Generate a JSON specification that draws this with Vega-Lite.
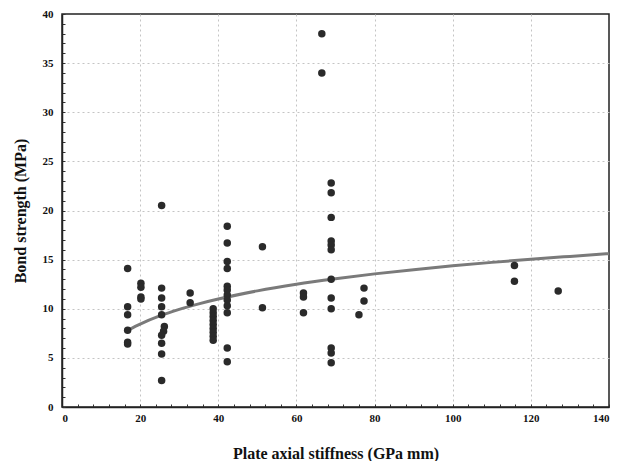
{
  "$schema": "https://vega.github.io/schema/vega-lite/v6.json",
  "autosize": "none",
  "padding": {"left": 62, "top": 14, "right": 20, "bottom": 54},
  "width": 547,
  "height": 393,
  "background": "white",
  "config": {
    "view": {"stroke": "#222", "strokeWidth": 1.5},
    "font": "Liberation Serif"
  },
  "datasets": {
    "pts": [
      {"x": 16.8, "y": 14.1}, {"x": 16.8, "y": 10.2}, {"x": 16.8, "y": 9.4}, {"x": 16.8, "y": 7.8}, {"x": 16.8, "y": 6.6}, {"x": 16.8, "y": 6.4},
      {"x": 20.2, "y": 12.6}, {"x": 20.2, "y": 12.2}, {"x": 20.2, "y": 11.2}, {"x": 20.2, "y": 11.0},
      {"x": 25.5, "y": 20.5}, {"x": 25.5, "y": 12.1}, {"x": 25.5, "y": 11.1}, {"x": 25.5, "y": 10.2}, {"x": 25.5, "y": 9.4}, {"x": 26.2, "y": 8.2}, {"x": 26.0, "y": 7.7}, {"x": 25.5, "y": 7.3}, {"x": 25.5, "y": 6.5}, {"x": 25.5, "y": 5.4}, {"x": 25.5, "y": 2.7},
      {"x": 32.8, "y": 11.6}, {"x": 32.8, "y": 10.6},
      {"x": 38.7, "y": 10.0}, {"x": 38.7, "y": 9.6}, {"x": 38.7, "y": 9.2}, {"x": 38.7, "y": 8.8}, {"x": 38.7, "y": 8.4}, {"x": 38.7, "y": 8.0}, {"x": 38.7, "y": 7.6}, {"x": 38.7, "y": 7.2}, {"x": 38.7, "y": 6.8},
      {"x": 42.3, "y": 18.4}, {"x": 42.3, "y": 16.7}, {"x": 42.3, "y": 14.8}, {"x": 42.3, "y": 14.1}, {"x": 42.3, "y": 12.3}, {"x": 42.3, "y": 11.9}, {"x": 42.3, "y": 11.4}, {"x": 42.3, "y": 10.9}, {"x": 42.3, "y": 10.3}, {"x": 42.3, "y": 9.6}, {"x": 42.3, "y": 6.0}, {"x": 42.3, "y": 4.6},
      {"x": 51.3, "y": 16.3}, {"x": 51.3, "y": 10.1},
      {"x": 61.8, "y": 11.6}, {"x": 61.8, "y": 11.2}, {"x": 61.8, "y": 9.6},
      {"x": 66.5, "y": 38.0}, {"x": 66.5, "y": 34.0},
      {"x": 68.9, "y": 22.8}, {"x": 68.9, "y": 21.8}, {"x": 68.9, "y": 19.3}, {"x": 68.9, "y": 16.9}, {"x": 68.9, "y": 16.5}, {"x": 68.9, "y": 16.0}, {"x": 68.9, "y": 13.0}, {"x": 68.9, "y": 11.1}, {"x": 68.9, "y": 10.0}, {"x": 68.9, "y": 6.0}, {"x": 68.9, "y": 5.5}, {"x": 68.9, "y": 4.5},
      {"x": 77.3, "y": 12.1}, {"x": 77.3, "y": 10.8}, {"x": 76.0, "y": 9.4},
      {"x": 115.8, "y": 14.4}, {"x": 115.8, "y": 12.8},
      {"x": 127.0, "y": 11.8}
    ],
    "fit": [
      {"x": 17, "y": 7.85}, {"x": 20, "y": 8.44}, {"x": 25, "y": 9.27}, {"x": 30, "y": 9.94}, {"x": 35, "y": 10.5}, {"x": 40, "y": 10.99}, {"x": 50, "y": 11.82}, {"x": 60, "y": 12.49}, {"x": 70, "y": 13.05}, {"x": 80, "y": 13.55}, {"x": 90, "y": 13.98}, {"x": 100, "y": 14.37}, {"x": 110, "y": 14.72}, {"x": 120, "y": 15.04}, {"x": 130, "y": 15.33}, {"x": 140, "y": 15.61}
    ]
  },
  "encoding": {
    "x": {
      "field": "x", "type": "quantitative",
      "scale": {"domain": [0, 140], "nice": false},
      "axis": {
        "title": "Plate axial stiffness (GPa mm)",
        "values": [0,4,8,12,16,20,24,28,32,36,40,44,48,52,56,60,64,68,72,76,80,84,88,92,96,100,104,108,112,116,120,124,128,132,136,140],
        "labelExpr": "datum.value % 20 === 0 ? datum.label : ''",
        "gridOpacity": {"condition": {"test": "datum.value % 20 === 0 && datum.value > 0 && datum.value < 140", "value": 1}, "value": 0},
        "gridColor": "#c4c4c4", "gridDash": [2, 3],
        "tickSize": -3, "tickColor": "#333",
        "domainColor": "#222", "domainWidth": 1.5,
        "labelFont": "Liberation Serif", "labelFontWeight": "bold", "labelFontSize": 11, "labelColor": "#111", "labelPadding": 8,
        "titleFont": "Liberation Serif", "titleFontWeight": "bold", "titleFontSize": 16, "titleColor": "#111", "titlePadding": 22
      }
    },
    "y": {
      "field": "y", "type": "quantitative",
      "scale": {"domain": [0, 40], "nice": false},
      "axis": {
        "title": "Bond strength (MPa)",
        "values": [0,1,2,3,4,5,6,7,8,9,10,11,12,13,14,15,16,17,18,19,20,21,22,23,24,25,26,27,28,29,30,31,32,33,34,35,36,37,38,39,40],
        "labelExpr": "datum.value % 5 === 0 ? datum.label : ''",
        "gridOpacity": {"condition": {"test": "datum.value % 5 === 0 && datum.value > 0 && datum.value < 40", "value": 1}, "value": 0},
        "gridColor": "#c4c4c4", "gridDash": [2, 3],
        "tickSize": -3, "tickColor": "#333",
        "domainColor": "#222", "domainWidth": 1.5,
        "labelFont": "Liberation Serif", "labelFontWeight": "bold", "labelFontSize": 11, "labelColor": "#111", "labelPadding": 12,
        "titleFont": "Liberation Serif", "titleFontWeight": "bold", "titleFontSize": 16, "titleColor": "#111", "titlePadding": 14
      }
    }
  },
  "layer": [
    {
      "data": {"name": "fit"},
      "mark": {"type": "line", "color": "#7a7a7a", "strokeWidth": 3, "interpolate": "monotone"},
      "encoding": {}
    },
    {
      "data": {"name": "pts"},
      "mark": {"type": "circle", "color": "#2a2a2a", "opacity": 1, "size": 56},
      "encoding": {}
    }
  ]
}
